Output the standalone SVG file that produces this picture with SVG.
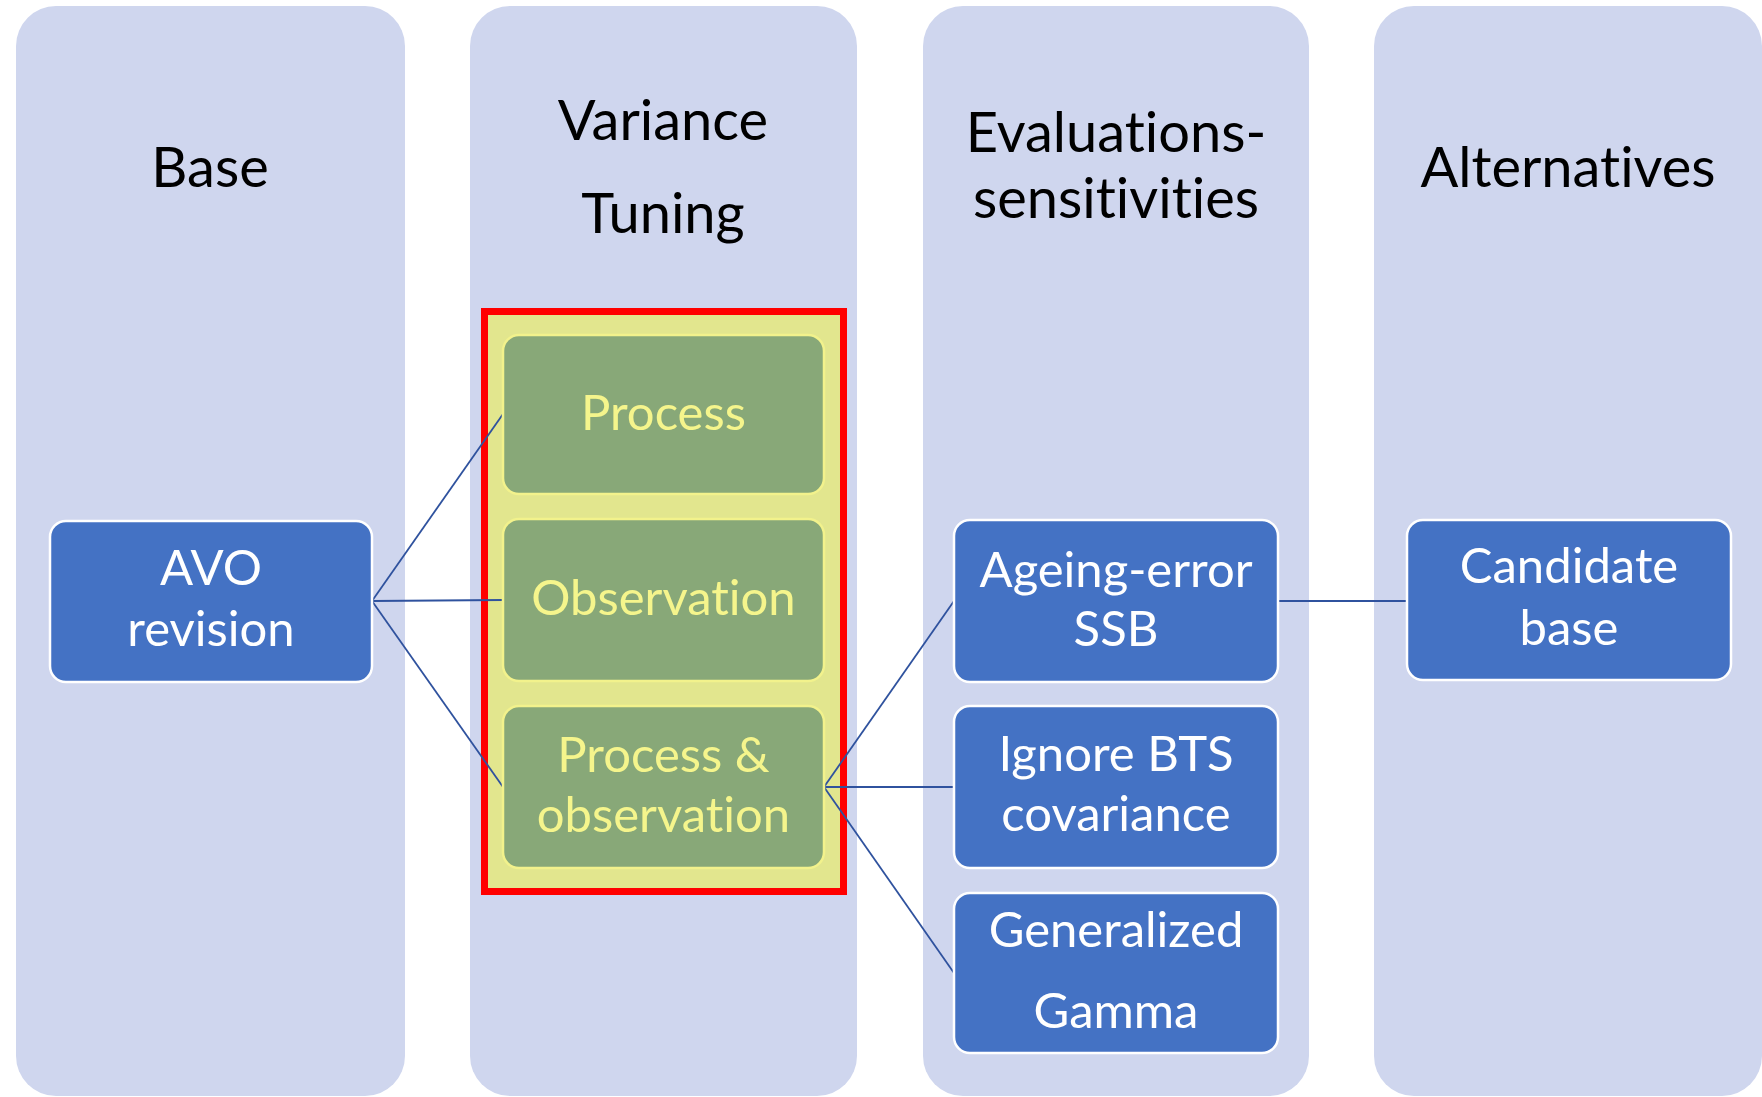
<svg xmlns="http://www.w3.org/2000/svg" width="1762" height="1097" viewBox="0 0 1762 1097">
<style>
text{font-variant-ligatures:none;font-feature-settings:"liga" 0,"clig" 0}
.col{fill:#CFD6EE}
.hdr{font-family:Lato,"Open Sans","Liberation Sans",sans-serif;font-size:56px;fill:#000;text-anchor:middle}
.blue rect{fill:#4472C4;stroke:#FFFFFF;stroke-width:2.5}
.blue text{font-family:Lato,"Open Sans","Liberation Sans",sans-serif;font-size:49px;fill:#FFFFFF;text-anchor:middle}
.green rect{fill:#88A878;stroke:#F2F28C;stroke-width:2.5}
.green text{font-family:Lato,"Open Sans","Liberation Sans",sans-serif;font-size:49px;fill:#F5F58C;text-anchor:middle}
.conn line{stroke:#2F529E;stroke-width:1.8}
</style>
<rect width="1762" height="1097" fill="#FFFFFF"/>
<g id="col-base"><rect class="col" x="16" y="6" width="389" height="1090" rx="40"/><text class="hdr" x="210" y="187">Base</text></g>
<g id="col-variance"><rect class="col" x="470" y="6" width="387" height="1090" rx="40"/><text class="hdr" x="663" y="140">Variance</text><text class="hdr" x="663" y="233">Tuning</text></g>
<g id="col-eval"><rect class="col" x="923" y="6" width="386" height="1090" rx="40"/><text class="hdr" x="1116" y="152">Evaluations-</text><text class="hdr" x="1116" y="218">sensitivities</text></g>
<g id="col-alt"><rect class="col" x="1374" y="6" width="388" height="1090" rx="40"/><text class="hdr" x="1568" y="187">Alternatives</text></g>
<g id="highlight"><rect x="484.5" y="311.5" width="359" height="580" fill="#E2E68E" stroke="#FF0000" stroke-width="7"/></g>
<g class="conn" id="connectors">
<line x1="372" y1="601" x2="503" y2="414"/>
<line x1="372" y1="601" x2="503" y2="600"/>
<line x1="372" y1="601" x2="503" y2="787"/>
<line x1="824" y1="787" x2="954" y2="601"/>
<line x1="824" y1="787" x2="954" y2="787"/>
<line x1="824" y1="787" x2="954" y2="973"/>
<line x1="1278" y1="601" x2="1408" y2="601"/>
</g>
<g id="avo" class="blue"><rect x="50" y="521" width="322" height="161" rx="16"/><text x="211" y="585">AVO</text><text x="211" y="646">revision</text></g>
<g id="process" class="green"><rect x="503" y="335" width="321" height="159" rx="16"/><text x="663.5" y="430">Process</text></g>
<g id="observation" class="green"><rect x="503" y="519" width="321" height="162" rx="16"/><text x="663.5" y="615">Observation</text></g>
<g id="procobs" class="green"><rect x="503" y="706" width="321" height="162" rx="16"/><text x="663.5" y="772">Process &amp;</text><text x="663.5" y="832">observation</text></g>
<g id="ageing" class="blue"><rect x="954" y="520" width="324" height="162" rx="16"/><text x="1116" y="587">Ageing-error</text><text x="1116" y="646">SSB</text></g>
<g id="ignore" class="blue"><rect x="954" y="706" width="324" height="162" rx="16"/><text x="1116" y="771">Ignore BTS</text><text x="1116" y="831">covariance</text></g>
<g id="gengamma" class="blue"><rect x="954" y="893" width="324" height="160" rx="16"/><text x="1116" y="947">Generalized</text><text x="1116" y="1028">Gamma</text></g>
<g id="candidate" class="blue"><rect x="1407" y="520" width="324" height="160" rx="16"/><text x="1569" y="583">Candidate</text><text x="1569" y="645">base</text></g>
</svg>
